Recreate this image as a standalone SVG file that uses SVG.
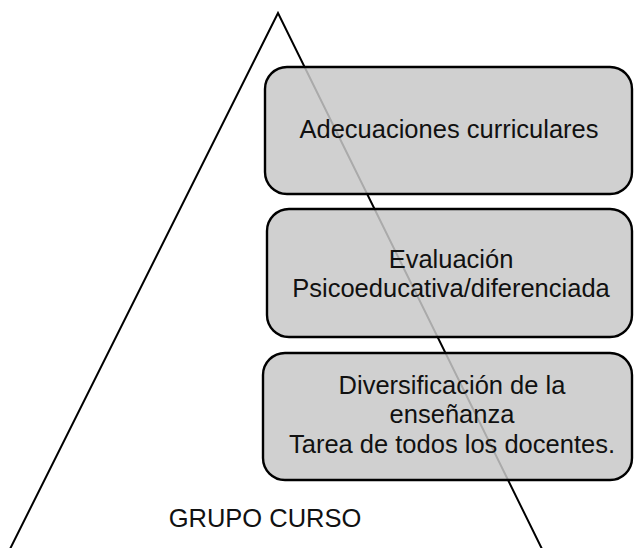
<svg xmlns="http://www.w3.org/2000/svg" width="634" height="548" viewBox="0 0 634 548">
<style>
.box{fill:#c8c8c8;fill-opacity:0.85;stroke:#000;stroke-width:2.4}
.t{font-family:"Liberation Sans",Arial,sans-serif;font-size:25.5px;fill:#111;text-anchor:middle}
.tri{fill:none;stroke:#000;stroke-width:2}
</style>
<rect width="634" height="548" fill="#fff"/>
<g id="connectors">
<polyline class="tri" points="10,549 278,13 542,549"/>
</g>
<g id="grupo-curso">
<text class="t" x="265" y="527">GRUPO CURSO</text>
</g>
<g id="adecuaciones">
<rect class="box" x="265" y="67" width="367" height="127" rx="22"/>
<text class="t" x="449" y="138">Adecuaciones curriculares</text>
</g>
<g id="evaluacion">
<rect class="box" x="267" y="209" width="365" height="128" rx="22"/>
<text class="t" x="451" y="268">Evaluación</text>
<text class="t" x="451" y="297">Psicoeducativa/diferenciada</text>
</g>
<g id="diversificacion">
<rect class="box" x="263" y="353" width="369" height="127" rx="22"/>
<text class="t" x="452" y="394">Diversificación de la</text>
<text class="t" x="452" y="423">enseñanza</text>
<text class="t" x="452" y="453">Tarea de todos los docentes.</text>
</g>
</svg>
